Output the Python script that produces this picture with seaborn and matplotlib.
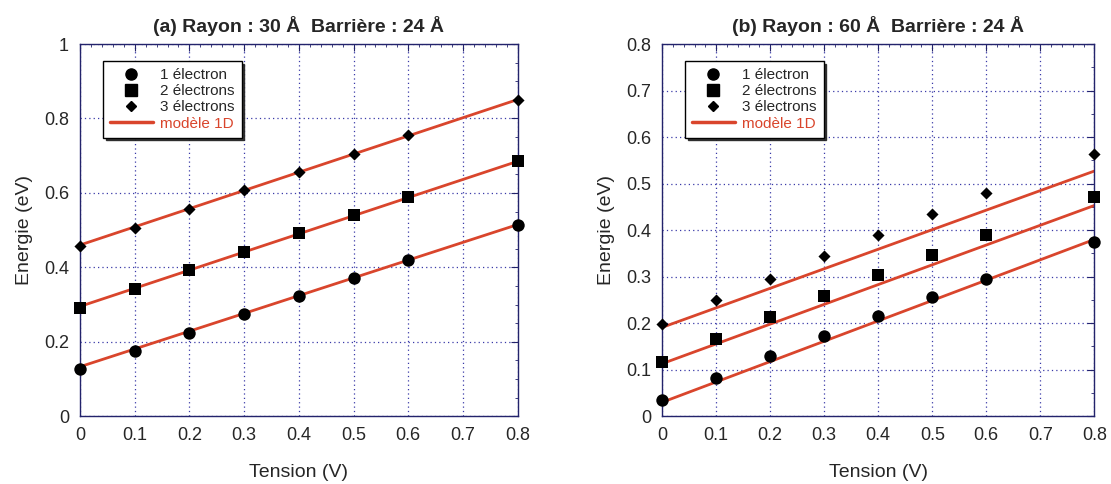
import numpy as np
import pandas as pd
import seaborn as sns
import matplotlib.pyplot as plt
from matplotlib.lines import Line2D
from matplotlib.ticker import MultipleLocator, FuncFormatter

# Data
tension = [0, 0.1, 0.2, 0.3, 0.4, 0.5, 0.6, 0.8]
model_x = [0, 0.8]

# (a) Rayon 30 A
a_e1 = [0.126, 0.175, 0.224, 0.274, 0.323, 0.371, 0.419, 0.515]
a_e2 = [0.292, 0.341, 0.392, 0.441, 0.491, 0.540, 0.588, 0.685]
a_e3 = [0.457, 0.506, 0.556, 0.607, 0.656, 0.705, 0.755, 0.851]
a_m1 = [0.133, 0.515]
a_m2 = [0.295, 0.685]
a_m3 = [0.460, 0.851]

# (b) Rayon 60 A
b_e1 = [0.034, 0.082, 0.129, 0.172, 0.215, 0.257, 0.296, 0.374]
b_e2 = [0.116, 0.166, 0.213, 0.259, 0.303, 0.347, 0.389, 0.472]
b_e3 = [0.199, 0.249, 0.296, 0.344, 0.389, 0.434, 0.479, 0.564]
b_m1 = [0.030, 0.380]
b_m2 = [0.113, 0.453]
b_m3 = [0.191, 0.527]

series_names = ["1 électron", "2 électrons", "3 électrons"]
titles = ["(a) Rayon : 30 Å  Barrière : 24 Å", "(b) Rayon : 60 Å  Barrière : 24 Å"]

RED = "#d9452c"
NAVY = "#23236b"
GRID = "#3a3aa8"

sns.set_style("white")
plt.rcParams['font.family'] = ['Liberation Sans Narrow', 'Liberation Sans', 'DejaVu Sans']


def make_df(e1, e2, e3):
    rows = []
    for name, vals in zip(series_names, [e1, e2, e3]):
        for t, v in zip(tension, vals):
            rows.append({"Tension": t, "Energie": v, "serie": name})
    return pd.DataFrame(rows)


fig = plt.figure(figsize=(11.11, 4.84), dpi=100)
ax_a = fig.add_axes([0.072, 0.140, 0.394, 0.769])
ax_b = fig.add_axes([0.596, 0.140, 0.389, 0.769])

panels = [
    (ax_a, make_df(a_e1, a_e2, a_e3), [a_m1, a_m2, a_m3], 1.0, 0.2, 0.05),
    (ax_b, make_df(b_e1, b_e2, b_e3), [b_m1, b_m2, b_m3], 0.8, 0.1, 0.05),
]

marker_map = {"1 électron": "o", "2 électrons": "s", "3 électrons": "D"}
size_map = {"1 électron": 80, "2 électrons": 85, "3 électrons": 38}

for i, (ax, df, models, ymax, ymaj, ymin) in enumerate(panels):
    for m in models:
        sns.lineplot(x=model_x, y=m, ax=ax, color=RED, linewidth=2, zorder=2)
    for name in series_names:
        sub = df[df["serie"] == name]
        sns.scatterplot(data=sub, x="Tension", y="Energie", ax=ax,
                        marker=marker_map[name], s=size_map[name],
                        color="black", edgecolor="black", linewidth=0,
                        zorder=3, clip_on=False)

    ax.set_xlim(0, 0.8)
    ax.set_ylim(0, ymax)
    ax.xaxis.set_major_locator(MultipleLocator(0.1))
    ax.xaxis.set_minor_locator(MultipleLocator(0.02))
    ax.yaxis.set_major_locator(MultipleLocator(ymaj))
    ax.yaxis.set_minor_locator(MultipleLocator(ymin))
    fmt = FuncFormatter(lambda v, p: "%g" % round(v, 3))
    ax.xaxis.set_major_formatter(fmt)
    ax.yaxis.set_major_formatter(fmt)
    ax.tick_params(which="both", direction="in", top=True, right=True,
                   color=NAVY, labelsize=13, pad=8)
    ax.tick_params(which="major", length=5)
    ax.tick_params(which="minor", length=2.5)
    ax.grid(True, which="major", color=GRID, linestyle=(0, (1, 2.5)), linewidth=0.9)
    for sp in ax.spines.values():
        sp.set_color(NAVY)
        sp.set_linewidth(1.0)

    ax.set_xlabel("Tension (V)", fontsize=14, labelpad=14)
    ax.set_ylabel("Energie (eV)", fontsize=14, labelpad=8)
    ax.set_title(titles[i], fontsize=14, fontweight="bold", pad=9)

    handles = [
        Line2D([], [], marker="o", color="black", linestyle="none", markersize=8),
        Line2D([], [], marker="s", color="black", linestyle="none", markersize=8),
        Line2D([], [], marker="D", color="black", linestyle="none", markersize=5.5),
        Line2D([], [], color=RED, linewidth=2.5),
    ]
    labels = series_names + ["modèle 1D"]
    leg = ax.legend(handles, labels, loc="upper left", bbox_to_anchor=(0.035, 0.975),
                    frameon=True, fancybox=False,
                    shadow={"color": "#222222", "alpha": 0.9}, framealpha=1,
                    edgecolor="black", handlelength=2.8,
                    labelspacing=0.15, borderpad=0.45, handletextpad=0.5,
                    prop={"family": ["Liberation Sans", "DejaVu Sans"], "size": 11})
    leg.get_frame().set_linewidth(1.0)
    leg.get_texts()[3].set_color(RED)

fig.savefig("out.png", dpi=100)
